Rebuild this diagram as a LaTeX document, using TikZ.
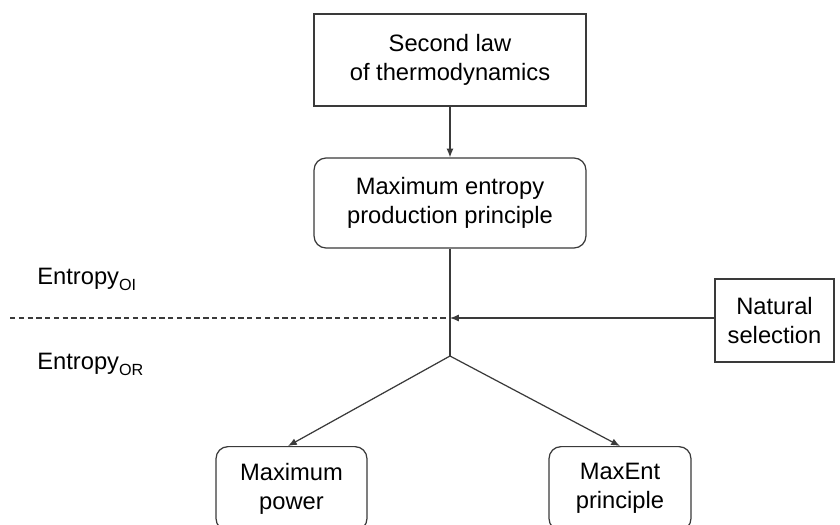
\documentclass[tikz,border=0pt]{standalone}
\usepackage{fontspec}
\setmainfont{Liberation Sans}
\usetikzlibrary{arrows.meta}
\definecolor{lnc}{HTML}{3A3A3A}
\newcommand{\lowsub}[1]{\raisebox{-3.6pt}{\fontsize{9.2}{9.5}\selectfont #1}}
\tikzset{
  every node/.style={font=\fontsize{13.5}{16.4}\selectfont, align=center, inner sep=0pt},
  sqbox/.style={draw=lnc, line width=0.7pt, fill=white},
  rdbox/.style={draw=lnc, line width=0.7pt, fill=white, rounded corners=0.24cm},
  conn/.style={draw=lnc, line width=0.7pt},
  arr/.style={conn, -{Latex[length=5pt,width=4pt]}},
}
\begin{document}
\begin{tikzpicture}[x=0.02cm,y=-0.02cm]
\useasboundingbox (0,0) rectangle (840,525);
\node[sqbox, minimum width=5.44cm, minimum height=1.84cm] (b1) at (450,60) {Second law\\of thermodynamics};
\node[rdbox, minimum width=5.44cm, minimum height=1.8cm] (b2) at (450,203) {Maximum entropy\\production principle};
\node[sqbox, minimum width=2.38cm, minimum height=1.66cm] (ns) at (774.5,320.5) {Natural\\selection};
\node[rdbox, minimum width=3.02cm, minimum height=1.68cm, anchor=north] (mp) at (291.5,446) {Maximum\\power};
\node[rdbox, minimum width=2.84cm, minimum height=1.68cm, anchor=north] (me) at (620,446) {MaxEnt\\principle};
\node[anchor=base west] (e1) at (37,284) {Entropy\lowsub{OI}};
\node[anchor=base west] (e2) at (37,369) {Entropy\lowsub{OR}};
\coordinate (k) at (450,318);
\coordinate (j) at (450,356);
\coordinate (d) at (10,318);
\draw[arr] (b1.south) -- (b2.north);
\draw[conn] (b2.south) -- (j);
\draw[arr] (ns.west |- k) -- (k);
\draw[conn, dash pattern=on 3pt off 2pt, line width=0.6pt] (d) -- (k);
\draw[arr] (j) -- (288,446);
\draw[arr] (j) -- (me.north);
\end{tikzpicture}
\end{document}
